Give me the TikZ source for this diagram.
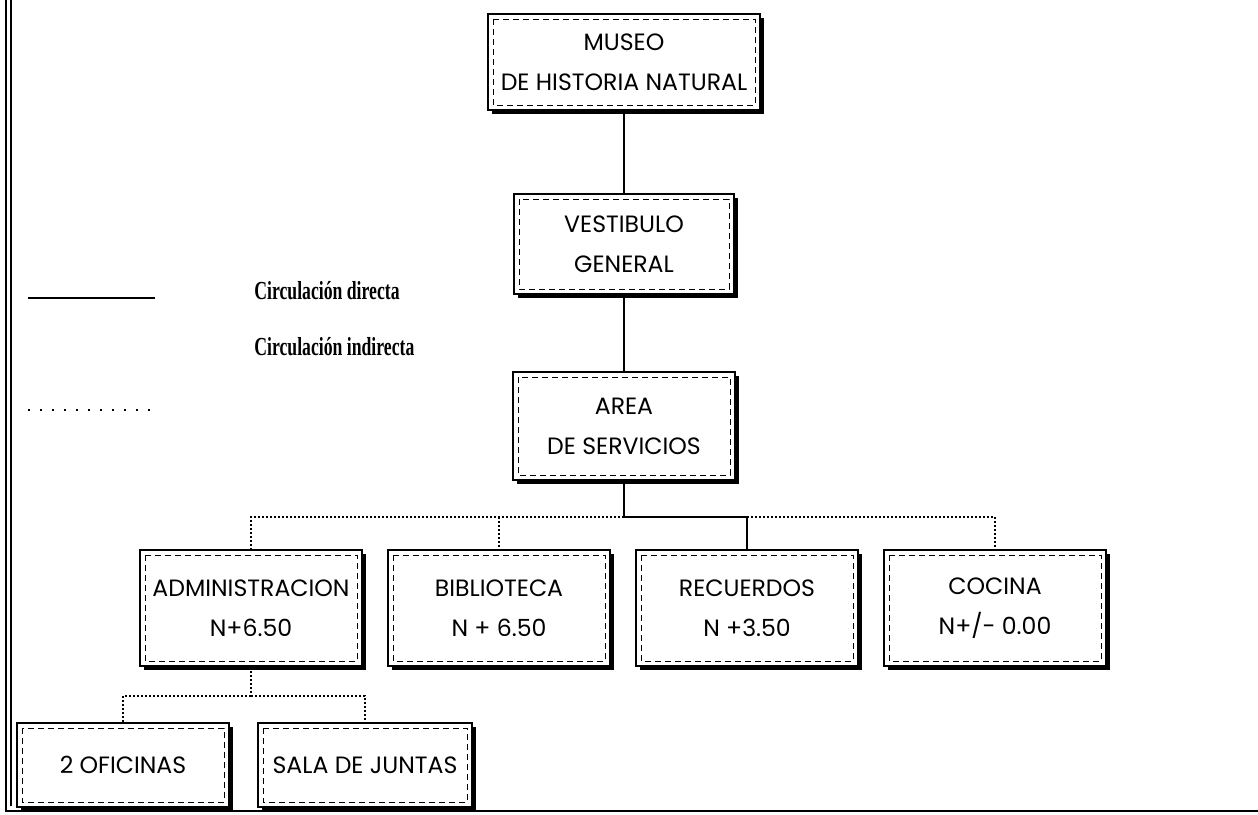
\documentclass[tikz,border=0pt]{standalone}
\usepackage{fontspec}
\usepackage{graphicx}
\usepackage{tikz}
\usetikzlibrary{positioning,shadows}
\newfontfamily\boxfont{Poppins}
\newfontfamily\legfont{Liberation Serif}

\begin{document}
\begin{tikzpicture}[x=0.5pt,y=-0.5pt,node distance=91pt]

  \tikzstyle{box}=[rectangle,draw=black,line width=0.7pt,fill=white,
                   align=center,minimum width=111pt,minimum height=58pt,
                   font=\boxfont\fontsize{11.8}{20}\selectfont,
                   drop shadow={shadow xshift=2pt,shadow yshift=-2pt,
                                opacity=1,fill=black},
                   path picture={\draw[densely dashed,line width=0.4pt]
                     ([shift={(2.5pt,-2.5pt)}]path picture bounding box.north west)
                     rectangle
                     ([shift={(-2.5pt,2.5pt)}]path picture bounding box.south east);}]
  \tikzstyle{direct}=[line width=1.2pt]
  \tikzstyle{indirect}=[line width=0.9pt,dash pattern=on 1pt off 1pt]
  \tikzstyle{legend}=[anchor=west,inner sep=0pt,
                      font=\legfont\bfseries\fontsize{13}{15}\selectfont]

  \useasboundingbox (0,0) rectangle (1258,814);

  % frame
  \draw [line width=1pt] (6,0) -- (6,811) -- (1258,811);
  \draw [line width=0.8pt] (11,0) -- (11,806);

  % legend
  \coordinate (d1) at (28,298);
  \coordinate (d2) at (155,298);
  \draw [line width=0.9pt] (d1) -- (d2);
  \node [legend] (ldir) at (254,291) {\scalebox{0.68}[1]{Circulación directa}};
  \node [legend] (lind) at (254,347) {\scalebox{0.68}[1]{Circulación indirecta}};
  \coordinate (i1) at (28,410);
  \coordinate (i2) at (155,410);
  \draw [line width=0.8pt,dash pattern=on 1pt off 5pt] (i1) -- (i2);

  % main column
  \node [box,minimum width=136pt,minimum height=48pt] (museo) at (624,62)
    {MUSEO\\DE HISTORIA NATURAL};
  \node [box,minimum width=110pt,minimum height=50pt] (vest) [below of=museo]
    {VESTIBULO\\GENERAL};
  \node [box,minimum width=111pt,minimum height=54pt] (area) [below of=vest]
    {AREA\\DE SERVICIOS};

  % second level
  \node [box] (admin) at (251,608) {ADMINISTRACION\\N+6.50};
  \node [box] (bib)  [right of=admin,node distance=124pt] {BIBLIOTECA\\N + 6.50};
  \node [box] (rec)  [right of=bib,node distance=124pt]   {RECUERDOS\\N +3.50};
  \node [box] (coc)  [right of=rec,node distance=124pt]   {COCINA\\N+/- 0.00};

  % third level
  \node [box,minimum width=106pt,minimum height=42pt] (ofi) at (123,765)
    {2 OFICINAS};
  \node [box,minimum width=107pt,minimum height=42pt] (sala)
    [right of=ofi,node distance=121pt] {SALA DE JUNTAS};

  \coordinate (bus) at (624,517);
  \coordinate (sub) at (251,696);

  \draw [direct] (museo) -- (vest);
  \draw [direct] (vest) -- (area);
  \draw [direct] (area) -- (bus) -| (rec);
  \draw [indirect] (bus) -| (admin);
  \draw [indirect] (bus -| bib) -- (bib);
  \draw [indirect] (bus -| rec) -| (coc);
  \draw [indirect] (admin) -- (sub);
  \draw [indirect] (sub) -| (ofi);
  \draw [indirect] (sub) -| (sala);
\end{tikzpicture}
\end{document}
